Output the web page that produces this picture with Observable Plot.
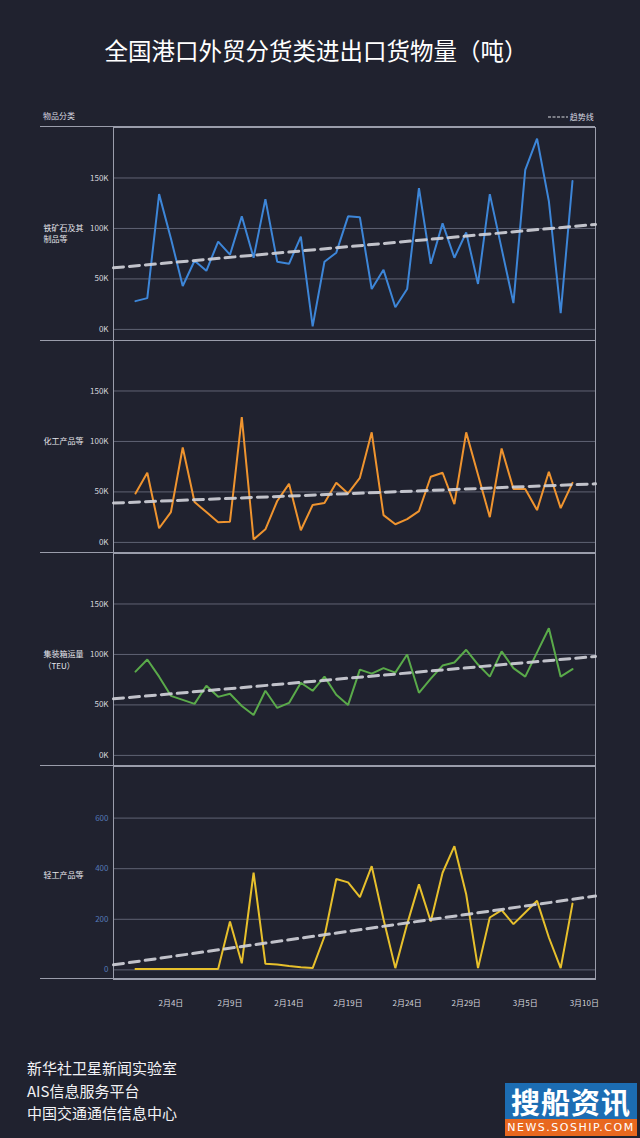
<!DOCTYPE html>
<html>
<head>
<meta charset="utf-8">
<script src="https://cdn.jsdelivr.net/npm/d3@7"></script>
<script src="https://cdn.jsdelivr.net/npm/@observablehq/plot@0.6"></script>
<style>
  html, body { margin: 0; padding: 0; }
  body { width: 640px; height: 1138px; background: #20222f; position: relative; overflow: hidden;
         font-family: "Noto Sans CJK SC", "Noto Sans", sans-serif; color: #e8e8ee; }
  .abs { position: absolute; }
  #title { left: 0; width: 632px; top: 33px; text-align: center; font-size: 23.5px; color: #ffffff; }
  .hline { position: absolute; left: 40px; width: 555px; height: 1px; background: #9a9dab; }
  .small { font-size: 8px; color: #d8d9e0; }
  #panels { position: absolute; left: 0; top: 127px; width: 640px; }
  #panels svg { display: block; }
  .foot { left: 27px; font-size: 15px; color: #f2f2f5; line-height: 22.5px; }
  #logo { left: 505px; top: 1083px; width: 132px; height: 53px; }
  #logoTop { height: 36px; background: #1c6db3; color: #fff; font-size: 29px; font-weight: bold; text-align: center; line-height: 36px; letter-spacing: 1px; }
  #logoBot { height: 17px; background: #e8681f; color: #fff; font-size: 11px; text-align: center; line-height: 17px; letter-spacing: 1.5px; font-family: "DejaVu Sans", sans-serif; }
</style>
</head>
<body>
<div id="title" class="abs">全国港口外贸分货类进出口货物量（吨）</div>
<div class="abs small" style="left:43px; top:110px;">物品分类</div>
<div class="abs small" style="left:548px; top:110px; white-space:nowrap;">
  <svg width="20" height="8" style="vertical-align:middle"><line x1="0" y1="4" x2="20" y2="4" stroke="#d8d9e0" stroke-width="1.2" stroke-dasharray="3,1.5"/></svg>
  <span style="vertical-align:middle">趋势线</span>
</div>
<div id="panels"></div>
<div class="hline" style="top:126px"></div>
<div class="hline" style="top:340px"></div>
<div class="hline" style="top:552px"></div>
<div class="hline" style="top:765px"></div>
<div class="hline" style="top:978px"></div>
<div class="abs foot" style="top:1057px">新华社卫星新闻实验室<br>AIS信息服务平台<br>中国交通通信信息中心</div>
<div id="logo" class="abs"><div id="logoTop">搜船资讯</div><div id="logoBot">NEWS.SOSHIP.COM</div></div>
<script>
// ---- data ----
const startDate = Date.UTC(2024, 1, 1);   // 2月1日
const dayCount = 38;                        // 2月1日 … 3月9日
const dates = d3.range(dayCount).map(i => d3.utcDay.offset(new Date(startDate), i));

const categories = ["铁矿石及其\n制品等", "化工产品等", "集装箱运量\n（TEU）", "轻工产品等"];

// 铁矿石及其制品等 (千吨)
const ironOre = [28, 31, 134, 90, 43, 68, 58, 87, 74, 112, 71, 129, 67, 65, 92, 3, 67, 76, 112,
                 111, 40, 59, 22, 40, 140, 65, 105, 71, 96, 45, 134, 80, 26, 158, 189, 127, 16, 147];
// 化工产品等 (千吨)
const chemicals = [48.5, 69, 14, 30, 94, 40, 30, 20, 20.5, 124, 3, 13, 41, 58, 12, 37, 39, 59, 48.5,
                   64, 109, 27, 18, 23, 31, 65, 69, 38, 109, 67, 25, 93, 53, 53, 32, 70, 34, 59];
// 集装箱运量 (千TEU)
const containers = [83, 95, 78, 59, 55, 51, 69, 58, 61, 49, 40, 64, 47, 52, 72, 64, 78, 60, 50,
                    85, 81, 86.5, 82, 100, 62, 76, 89, 92, 104.6, 90, 78, 103, 86.5, 78, 102, 126, 78, 85.5];
// 轻工产品等
const lightIndustry = [4, 4, 4, 4, 4, 4, 4, 4, 191, 26, 384, 24, 21, 15, 10, 7, 132, 359, 346,
                       288, 410, 200, 7, 181, 338, 191, 384, 489, 299, 7, 207, 236, 181, 227, 273, 128, 7, 262];

// trend line values at the left and right edge of the plot
const trendIron = [61, 104];
const trendChem = [39, 58];
const trendBox = [56, 98];
const trendLight = [20, 292];

const kTicks = [0, 50, 100, 150];
const lightTicks = [0, 200, 400, 600];
const xTickDates = [[1,4],[1,9],[1,14],[1,19],[1,24],[1,29],[2,5],[2,10]].map(([m, d]) => new Date(Date.UTC(2024, m, d)));

// ---- layout / styles ----
const xDomain = [new Date(Date.UTC(2024, 0, 30, 3, 20)), new Date(Date.UTC(2024, 2, 10, 22, 45))];
const font = '"Noto Sans CJK SC", "Noto Sans", sans-serif';

const panels = [
  {label: categories[0], values: ironOre, trend: trendIron, color: "#3d86d8", domain: [-11, 200], ticks: kTicks, fmt: d => d + "K", tickColor: "#d4d5dc", dy: 105.5},
  {label: categories[1], values: chemicals, trend: trendChem, color: "#ef942f", domain: [-11, 200], ticks: kTicks, fmt: d => d + "K", tickColor: "#d4d5dc", dy: 100},
  {label: categories[2], values: containers, trend: trendBox, color: "#5aaa4a", domain: [-11, 200], ticks: kTicks, fmt: d => d + "K", tickColor: "#d4d5dc", dy: 106},
  {label: categories[3], values: lightIndustry, trend: trendLight, color: "#e7c02c", domain: [-38, 804], ticks: lightTicks, fmt: d => String(d), tickColor: "#5579b8", dy: 108}
];

const host = document.getElementById("panels");
panels.forEach((p, i) => {
  const last = i === panels.length - 1;
  const series = dates.map((d, j) => ({date: d, value: p.values[j]}));
  const trend = xDomain.map((d, j) => ({date: d, value: p.trend[j]}));
  const chart = Plot.plot({
    width: 640,
    height: last ? 213 + 45 : 213,
    marginLeft: 113,
    marginRight: 45,
    marginTop: 0,
    marginBottom: last ? 45 : 0,
    style: {background: "transparent", fontFamily: font, fontSize: "8px", color: "#d4d5dc"},
    x: {type: "utc", domain: xDomain, axis: last ? "bottom" : null, ticks: xTickDates,
        tickFormat: d => `${d.getUTCMonth() + 1}月${d.getUTCDate()}日`, tickSize: 0, tickPadding: 21, label: null},
    y: {domain: p.domain, axis: null},
    marks: [
      Plot.gridY(p.ticks, {stroke: "#6b6e80", strokeOpacity: 0.85, strokeWidth: 1}),
      Plot.axisY(p.ticks, {tickSize: 0, tickPadding: 5, tickFormat: p.fmt, fill: p.tickColor, label: null, fontSize: 8}),
      Plot.frame({stroke: "#9a9dab", strokeWidth: 1}),
      Plot.line(series, {x: "date", y: "value", stroke: p.color, strokeWidth: 2, strokeLinejoin: "miter"}),
      Plot.line(trend, {x: "date", y: "value", stroke: "#cfd0d8", strokeWidth: 3, strokeDasharray: "10,6", strokeOpacity: 0.92}),
      Plot.text([p.label], {text: d => d, frameAnchor: "top-left", dx: -70, dy: p.dy, textAnchor: "start",
                            lineAnchor: "middle", lineHeight: 1.4, fill: "#e6e6ec", fontSize: 8})
    ]
  });
  host.appendChild(chart);
});
</script>
</body>
</html>
